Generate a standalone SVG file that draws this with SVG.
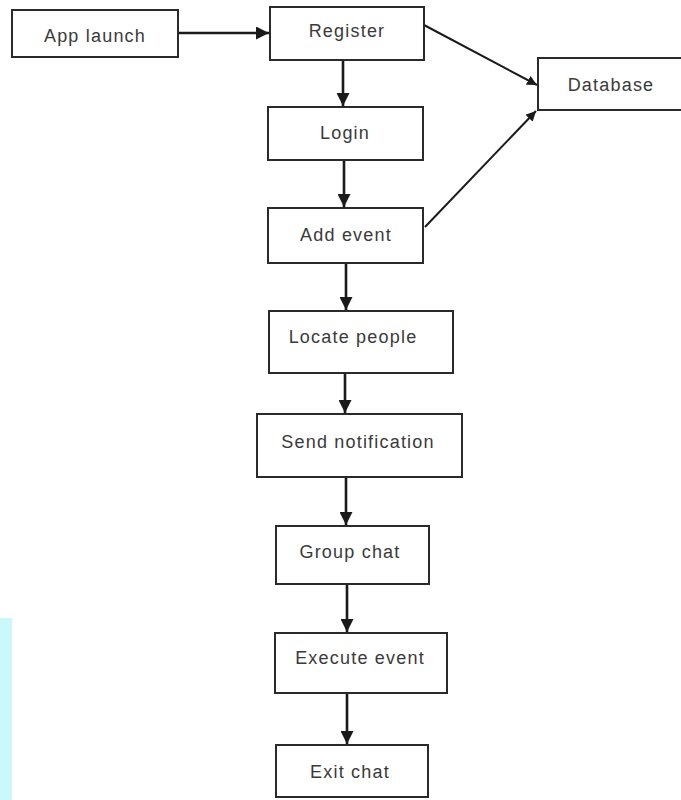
<svg xmlns="http://www.w3.org/2000/svg" width="681" height="800" viewBox="0 0 681 800">
<style>
.box{fill:#fff;stroke:#2a2a2a;stroke-width:2}
.lbl{font-family:"Liberation Sans",Arial,sans-serif;font-size:18px;fill:#3a3a3a;text-anchor:middle;dominant-baseline:central;letter-spacing:1.2px}
.con{stroke:#1a1a1a;stroke-width:2.6;fill:none;marker-end:url(#ah)}
.thin{stroke-width:2}
</style>
<defs>
<marker id="ah" viewBox="0 0 10 10" refX="10" refY="5" markerWidth="5" markerHeight="5" markerUnits="strokeWidth" orient="auto">
<path d="M0,0 L10,5 L0,10 z" fill="#1a1a1a"/>
</marker>
</defs>
<rect x="0" y="0" width="681" height="800" fill="#fff"/>
<rect x="0" y="618" width="12" height="182" fill="#c9f9fb"/>
<g id="connectors">
<line class="con" x1="178" y1="33" x2="269" y2="33"/>
<line class="con thin" x1="424" y1="25" x2="537" y2="85"/>
<line class="con" x1="343" y1="61" x2="343" y2="106"/>
<line class="con" x1="344" y1="161" x2="344" y2="207"/>
<line class="con thin" x1="425" y1="227" x2="536" y2="111"/>
<line class="con" x1="346" y1="264" x2="346" y2="310"/>
<line class="con" x1="345" y1="374" x2="345" y2="413"/>
<line class="con" x1="346" y1="478" x2="346" y2="525"/>
<line class="con" x1="347" y1="585" x2="347" y2="632"/>
<line class="con" x1="347" y1="694" x2="347" y2="744"/>
</g>
<g id="app-launch"><rect class="box" x="12" y="10" width="166" height="47"/><text class="lbl" x="95" y="36">App launch</text></g>
<g id="register"><rect class="box" x="270" y="7" width="154" height="53"/><text class="lbl" x="347" y="31">Register</text></g>
<g id="database"><rect class="box" x="538" y="58" width="150" height="52"/><text class="lbl" x="611" y="85">Database</text></g>
<g id="login"><rect class="box" x="268" y="107" width="155" height="53"/><text class="lbl" x="345" y="133">Login</text></g>
<g id="add-event"><rect class="box" x="268" y="208" width="155" height="55"/><text class="lbl" x="346" y="235">Add event</text></g>
<g id="locate-people"><rect class="box" x="269" y="311" width="184" height="62"/><text class="lbl" x="353" y="337">Locate people</text></g>
<g id="send-notification"><rect class="box" x="257" y="414" width="205" height="63"/><text class="lbl" x="358" y="442">Send notification</text></g>
<g id="group-chat"><rect class="box" x="276" y="526" width="153" height="58"/><text class="lbl" x="350" y="552">Group chat</text></g>
<g id="execute-event"><rect class="box" x="275" y="633" width="172" height="60"/><text class="lbl" x="360" y="658">Execute event</text></g>
<g id="exit-chat"><rect class="box" x="276" y="745" width="152" height="52"/><text class="lbl" x="350" y="772">Exit chat</text></g>
</svg>
